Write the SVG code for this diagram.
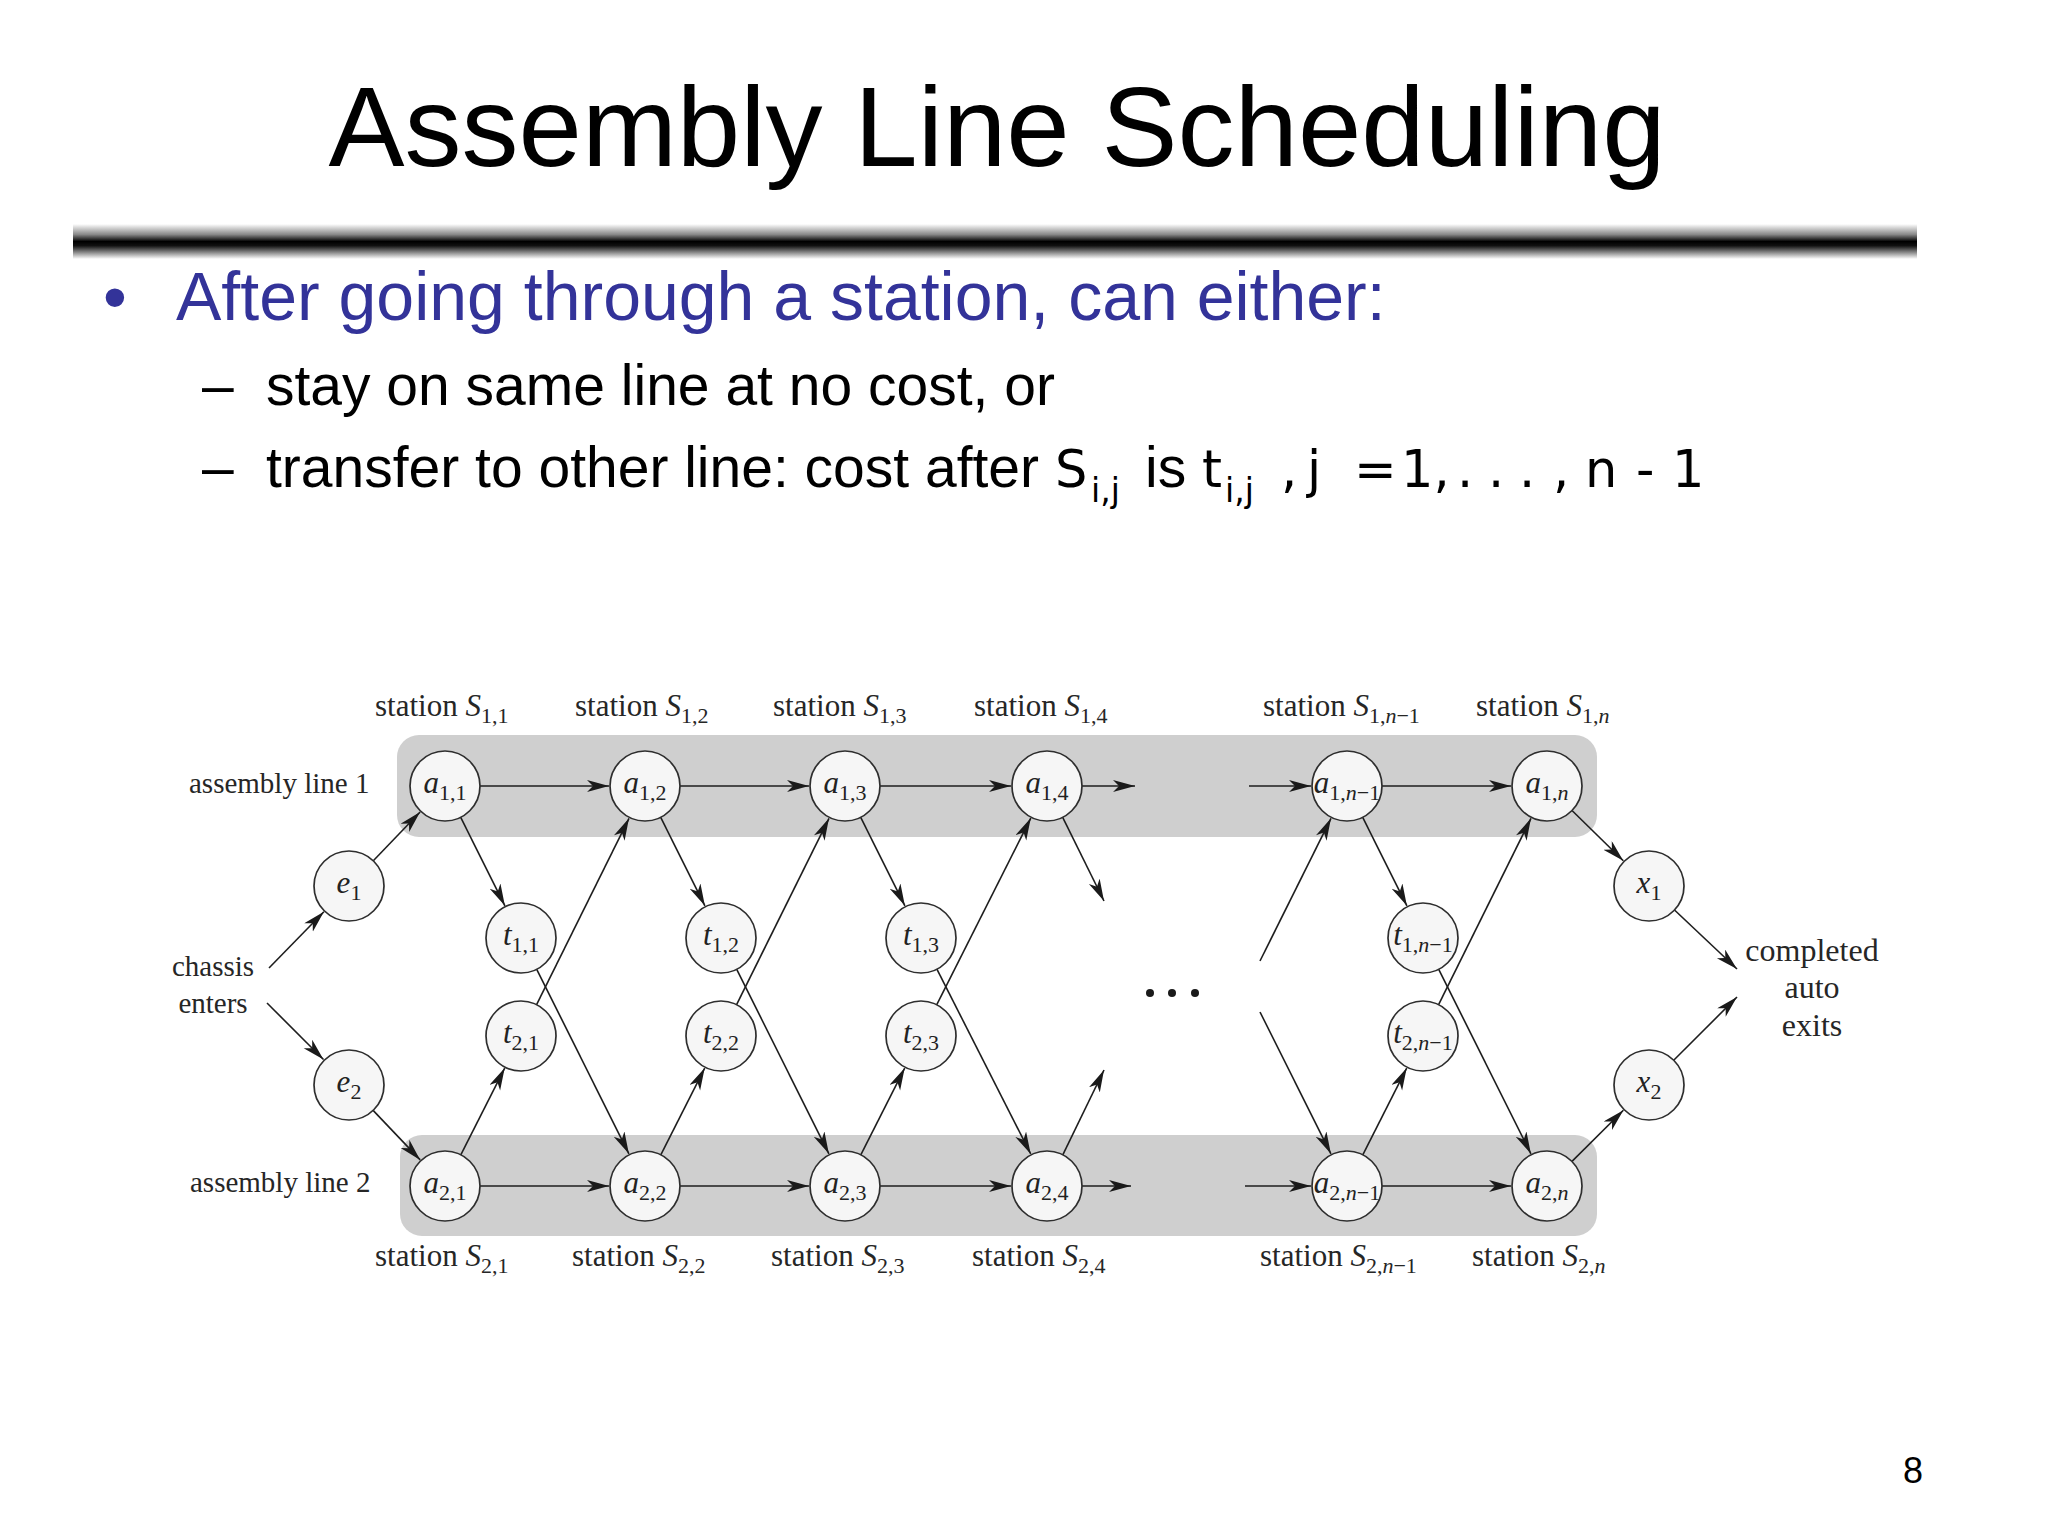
<svg xmlns="http://www.w3.org/2000/svg" width="2048" height="1536" viewBox="0 0 2048 1536">
<defs>
<linearGradient id="bar" x1="0" y1="0" x2="0" y2="1">
<stop offset="0" stop-color="#ffffff"/>
<stop offset="0.3" stop-color="#888888"/>
<stop offset="0.5" stop-color="#000000"/>
<stop offset="0.62" stop-color="#111111"/>
<stop offset="1" stop-color="#ffffff"/>
</linearGradient>
<marker id="ah" markerUnits="userSpaceOnUse" markerWidth="24" markerHeight="14" refX="22" refY="6" orient="auto">
<path d="M0,0 L22,6 L0,12 L6,6 z" fill="#1a1a1a"/>
</marker>
<style>
.slide{font-family:"Liberation Sans",Arial,sans-serif;}
.math{font-family:"DejaVu Sans","Liberation Sans",sans-serif;}
.dg{font-family:"Liberation Serif","Times New Roman",serif;fill:#262626;}
.band{fill:#cfcfcf;}
.nd{fill:#f6f6f6;stroke:#2e2e2e;stroke-width:1.7;}
.lbl{font-family:"Liberation Serif","Times New Roman",serif;font-size:31px;fill:#222;text-anchor:middle;}
.it{font-style:italic;}
.sub{font-size:22px;}
.cn line{stroke:#1e1e1e;stroke-width:1.6;marker-end:url(#ah);}
</style>
</defs>
<rect width="2048" height="1536" fill="#ffffff"/>

<g id="title">
<text class="slide" x="997" y="166" font-size="114" text-anchor="middle" fill="#000">Assembly Line Scheduling</text>
<rect x="73" y="224" width="1844" height="35" fill="url(#bar)"/>
</g>

<g id="bullets" class="slide">
<text x="103" y="320" font-size="68" fill="#333399">•</text>
<text x="176" y="320" font-size="68" fill="#333399">After going through a station, can either:</text>
<text x="202" y="405" font-size="57" fill="#000">–</text>
<text x="266" y="405" font-size="57" fill="#000">stay on same line at no cost, or</text>
<text x="202" y="487" font-size="57" fill="#000">–</text>
<text x="266" y="487" font-size="57" fill="#000">transfer to other line: cost after</text>
<text class="math" x="1055" y="487" font-size="51" fill="#000">S</text>
<text class="math" x="1091" y="502" font-size="33" fill="#000">i,j</text>
<text x="1145" y="487" font-size="57" fill="#000">is</text>
<text class="math" x="1202" y="487" font-size="51" fill="#000">t</text>
<text class="math" x="1225" y="502" font-size="33" fill="#000">i,j</text>
<text class="math" font-size="51" fill="#000" y="487"><tspan x="1281">,</tspan><tspan x="1307">j</tspan><tspan x="1354">=</tspan><tspan x="1401">1,</tspan><tspan x="1457">.</tspan><tspan x="1488">.</tspan><tspan x="1519">.</tspan><tspan x="1553">,</tspan><tspan x="1585">n</tspan><tspan x="1636">-</tspan><tspan x="1672">1</tspan></text>
</g>

<g id="bands">
<rect class="band" x="397" y="735" width="1200" height="102" rx="22"/>
<rect class="band" x="400" y="1135" width="1197" height="101" rx="22"/>
</g>

<g id="connectors" class="cn">
<line x1="480" y1="786" x2="609" y2="786"/>
<line x1="680" y1="786" x2="809" y2="786"/>
<line x1="880" y1="786" x2="1011" y2="786"/>
<line x1="1082" y1="786" x2="1135" y2="786"/>
<line x1="1249" y1="786" x2="1311" y2="786"/>
<line x1="1382" y1="786" x2="1511" y2="786"/>
<line x1="480" y1="1186" x2="609" y2="1186"/>
<line x1="680" y1="1186" x2="809" y2="1186"/>
<line x1="880" y1="1186" x2="1011" y2="1186"/>
<line x1="1082" y1="1186" x2="1131" y2="1186"/>
<line x1="1245" y1="1186" x2="1311" y2="1186"/>
<line x1="1382" y1="1186" x2="1511" y2="1186"/>

<line x1="460.7" y1="817.3" x2="504.9" y2="905.8"/>
<line x1="660.7" y1="817.3" x2="704.9" y2="905.8"/>
<line x1="860.7" y1="817.3" x2="904.9" y2="905.8"/>
<line x1="1062.7" y1="817.3" x2="1104" y2="901"/>
<line x1="1362.7" y1="817.3" x2="1406.9" y2="905.8"/>

<line x1="460.8" y1="1154.8" x2="504.7" y2="1068.1"/>
<line x1="660.8" y1="1154.8" x2="704.7" y2="1068.1"/>
<line x1="860.8" y1="1154.8" x2="904.7" y2="1068.1"/>
<line x1="1062.8" y1="1154.8" x2="1104" y2="1070"/>
<line x1="1362.8" y1="1154.8" x2="1406.7" y2="1068.1"/>

<line x1="536.7" y1="969.3" x2="628.9" y2="1153.8"/>
<line x1="736.7" y1="969.3" x2="828.9" y2="1153.8"/>
<line x1="936.9" y1="969.2" x2="1030.7" y2="1153.9"/>
<line x1="1260" y1="1012" x2="1330.9" y2="1153.8"/>
<line x1="1438.7" y1="969.3" x2="1530.9" y2="1153.8"/>

<line x1="536.6" y1="1004.6" x2="629" y2="818.3"/>
<line x1="736.6" y1="1004.6" x2="829" y2="818.3"/>
<line x1="936.8" y1="1004.7" x2="1030.8" y2="818.1"/>
<line x1="1260" y1="961" x2="1331" y2="818.3"/>
<line x1="1438.6" y1="1004.6" x2="1531" y2="818.3"/>

<line x1="269" y1="968" x2="323.9" y2="911.8"/>
<line x1="267" y1="1003" x2="323.5" y2="1059.5"/>
<line x1="373.3" y1="860.7" x2="420.1" y2="812"/>
<line x1="373.1" y1="1110.4" x2="420.2" y2="1159.9"/>
<line x1="1572" y1="810.5" x2="1623.3" y2="860.8"/>
<line x1="1572" y1="1161.4" x2="1623.4" y2="1110.3"/>
<line x1="1674.5" y1="910" x2="1737" y2="969"/>
<line x1="1673.7" y1="1060.3" x2="1737" y2="997"/>
</g>

<g id="e1"><circle class="nd" cx="349" cy="886" r="35"/><text class="lbl" x="349" y="893"><tspan class="it">e</tspan><tspan class="sub" dy="7">1</tspan></text></g>
<g id="e2"><circle class="nd" cx="349" cy="1085" r="35"/><text class="lbl" x="349" y="1092"><tspan class="it">e</tspan><tspan class="sub" dy="7">2</tspan></text></g>
<g id="x1"><circle class="nd" cx="1649" cy="886" r="35"/><text class="lbl" x="1649" y="893"><tspan class="it">x</tspan><tspan class="sub" dy="7">1</tspan></text></g>
<g id="x2"><circle class="nd" cx="1649" cy="1085" r="35"/><text class="lbl" x="1649" y="1092"><tspan class="it">x</tspan><tspan class="sub" dy="7">2</tspan></text></g>

<g id="a11"><circle class="nd" cx="445" cy="786" r="35"/><text class="lbl" x="445" y="793"><tspan class="it">a</tspan><tspan class="sub" dy="7">1,1</tspan></text></g>
<g id="a12"><circle class="nd" cx="645" cy="786" r="35"/><text class="lbl" x="645" y="793"><tspan class="it">a</tspan><tspan class="sub" dy="7">1,2</tspan></text></g>
<g id="a13"><circle class="nd" cx="845" cy="786" r="35"/><text class="lbl" x="845" y="793"><tspan class="it">a</tspan><tspan class="sub" dy="7">1,3</tspan></text></g>
<g id="a14"><circle class="nd" cx="1047" cy="786" r="35"/><text class="lbl" x="1047" y="793"><tspan class="it">a</tspan><tspan class="sub" dy="7">1,4</tspan></text></g>
<g id="a1n1"><circle class="nd" cx="1347" cy="786" r="35"/><text class="lbl" x="1347" y="793"><tspan class="it">a</tspan><tspan class="sub" dy="7">1,<tspan class="it">n</tspan>−1</tspan></text></g>
<g id="a1n"><circle class="nd" cx="1547" cy="786" r="35"/><text class="lbl" x="1547" y="793"><tspan class="it">a</tspan><tspan class="sub" dy="7">1,<tspan class="it">n</tspan></tspan></text></g>

<g id="a21"><circle class="nd" cx="445" cy="1186" r="35"/><text class="lbl" x="445" y="1193"><tspan class="it">a</tspan><tspan class="sub" dy="7">2,1</tspan></text></g>
<g id="a22"><circle class="nd" cx="645" cy="1186" r="35"/><text class="lbl" x="645" y="1193"><tspan class="it">a</tspan><tspan class="sub" dy="7">2,2</tspan></text></g>
<g id="a23"><circle class="nd" cx="845" cy="1186" r="35"/><text class="lbl" x="845" y="1193"><tspan class="it">a</tspan><tspan class="sub" dy="7">2,3</tspan></text></g>
<g id="a24"><circle class="nd" cx="1047" cy="1186" r="35"/><text class="lbl" x="1047" y="1193"><tspan class="it">a</tspan><tspan class="sub" dy="7">2,4</tspan></text></g>
<g id="a2n1"><circle class="nd" cx="1347" cy="1186" r="35"/><text class="lbl" x="1347" y="1193"><tspan class="it">a</tspan><tspan class="sub" dy="7">2,<tspan class="it">n</tspan>−1</tspan></text></g>
<g id="a2n"><circle class="nd" cx="1547" cy="1186" r="35"/><text class="lbl" x="1547" y="1193"><tspan class="it">a</tspan><tspan class="sub" dy="7">2,<tspan class="it">n</tspan></tspan></text></g>

<g id="t11"><circle class="nd" cx="521" cy="938" r="35"/><text class="lbl" x="521" y="945"><tspan class="it">t</tspan><tspan class="sub" dy="7">1,1</tspan></text></g>
<g id="t12"><circle class="nd" cx="721" cy="938" r="35"/><text class="lbl" x="721" y="945"><tspan class="it">t</tspan><tspan class="sub" dy="7">1,2</tspan></text></g>
<g id="t13"><circle class="nd" cx="921" cy="938" r="35"/><text class="lbl" x="921" y="945"><tspan class="it">t</tspan><tspan class="sub" dy="7">1,3</tspan></text></g>
<g id="t1n1"><circle class="nd" cx="1423" cy="938" r="35"/><text class="lbl" x="1423" y="945"><tspan class="it">t</tspan><tspan class="sub" dy="7">1,<tspan class="it">n</tspan>−1</tspan></text></g>
<g id="t21"><circle class="nd" cx="521" cy="1036" r="35"/><text class="lbl" x="521" y="1043"><tspan class="it">t</tspan><tspan class="sub" dy="7">2,1</tspan></text></g>
<g id="t22"><circle class="nd" cx="721" cy="1036" r="35"/><text class="lbl" x="721" y="1043"><tspan class="it">t</tspan><tspan class="sub" dy="7">2,2</tspan></text></g>
<g id="t23"><circle class="nd" cx="921" cy="1036" r="35"/><text class="lbl" x="921" y="1043"><tspan class="it">t</tspan><tspan class="sub" dy="7">2,3</tspan></text></g>
<g id="t2n1"><circle class="nd" cx="1423" cy="1036" r="35"/><text class="lbl" x="1423" y="1043"><tspan class="it">t</tspan><tspan class="sub" dy="7">2,<tspan class="it">n</tspan>−1</tspan></text></g>

<g id="ellipsis" fill="#1a1a1a">
<circle cx="1150" cy="993" r="4"/><circle cx="1172" cy="993" r="4"/><circle cx="1195" cy="993" r="4"/>
</g>

<g id="labels" class="dg" font-size="31">
<text x="189" y="793" font-size="29">assembly line 1</text>
<text x="190" y="1192" font-size="29">assembly line 2</text>
<text x="213" y="976" font-size="29" text-anchor="middle">chassis</text>
<text x="213" y="1013" font-size="29" text-anchor="middle">enters</text>
<text x="1812" y="961" font-size="32" text-anchor="middle">completed</text>
<text x="1812" y="998" font-size="32" text-anchor="middle">auto</text>
<text x="1812" y="1036" font-size="32" text-anchor="middle">exits</text>

<text x="375" y="716">station <tspan class="it">S</tspan><tspan font-size="22" dy="7">1,1</tspan></text>
<text x="575" y="716">station <tspan class="it">S</tspan><tspan font-size="22" dy="7">1,2</tspan></text>
<text x="773" y="716">station <tspan class="it">S</tspan><tspan font-size="22" dy="7">1,3</tspan></text>
<text x="974" y="716">station <tspan class="it">S</tspan><tspan font-size="22" dy="7">1,4</tspan></text>
<text x="1263" y="716">station <tspan class="it">S</tspan><tspan font-size="22" dy="7">1,<tspan class="it">n</tspan>−1</tspan></text>
<text x="1476" y="716">station <tspan class="it">S</tspan><tspan font-size="22" dy="7">1,<tspan class="it">n</tspan></tspan></text>

<text x="375" y="1266">station <tspan class="it">S</tspan><tspan font-size="22" dy="7">2,1</tspan></text>
<text x="572" y="1266">station <tspan class="it">S</tspan><tspan font-size="22" dy="7">2,2</tspan></text>
<text x="771" y="1266">station <tspan class="it">S</tspan><tspan font-size="22" dy="7">2,3</tspan></text>
<text x="972" y="1266">station <tspan class="it">S</tspan><tspan font-size="22" dy="7">2,4</tspan></text>
<text x="1260" y="1266">station <tspan class="it">S</tspan><tspan font-size="22" dy="7">2,<tspan class="it">n</tspan>−1</tspan></text>
<text x="1472" y="1266">station <tspan class="it">S</tspan><tspan font-size="22" dy="7">2,<tspan class="it">n</tspan></tspan></text>
</g>

<text id="pagenum" class="slide" x="1913" y="1483" font-size="36" text-anchor="middle" fill="#000">8</text>
</svg>
